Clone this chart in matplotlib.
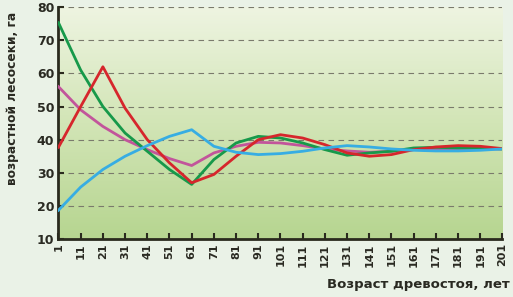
import numpy as np
import matplotlib
matplotlib.use('Agg')
import matplotlib.pyplot as plt
from matplotlib.colors import LinearSegmentedColormap

matplotlib.rcParams['font.family'] = 'DejaVu Sans'

# Data
ages = [1, 11, 21, 31, 41, 51, 61, 71, 81, 91, 101, 111, 121, 131, 141, 151, 161, 171, 181, 191, 201]
green = [75.3, 61.0, 50.0, 42.0, 36.5, 31.0, 26.5, 34.0, 39.0, 41.0, 40.5, 39.0, 37.0, 35.3, 36.0, 36.5, 37.5, 37.7, 37.5, 37.5, 37.2]
red = [37.7, 50.0, 62.0, 49.5, 40.0, 33.0, 27.0, 29.5, 35.0, 40.0, 41.5, 40.5, 38.5, 36.0, 35.0, 35.5, 37.0, 37.8, 38.2, 38.0, 37.3]
magenta = [56.0, 49.0, 44.0, 40.0, 37.0, 34.3, 32.2, 36.0, 38.0, 39.2, 39.0, 38.2, 37.2, 36.6, 36.2, 36.5, 37.0, 37.2, 37.2, 37.2, 37.2]
blue = [18.7, 25.7, 31.0, 35.0, 38.2, 41.0, 43.0, 38.0, 36.2, 35.5, 35.8, 36.5, 37.5, 38.2, 37.8, 37.2, 36.8, 36.6, 36.6, 36.8, 37.2]

y_ticks = [10, 20, 30, 40, 50, 60, 70, 80]

fig = plt.figure(figsize=(5.13, 2.97), dpi=100, facecolor='#eaf2e7')
ax = fig.add_axes([0.114, 0.195, 0.8655, 0.781])

# gradient background of the plot area
cmap = LinearSegmentedColormap.from_list('bg', ['#b6d590', '#d2e5b6', '#eef4e1'])
grad = np.linspace(0, 1, 256).reshape(-1, 1)
ax.imshow(grad, cmap=cmap, origin='lower', extent=[1, 201, 10, 80], aspect='auto', zorder=0)

for y in y_ticks[1:]:
    ax.axhline(y, color='#7a7a6c', linewidth=0.8, linestyle=(0, (5, 4)), zorder=1)

ax.plot(ages, magenta, color='#c2559b', linewidth=2.0, zorder=3)
ax.plot(ages, green, color='#17994a', linewidth=2.0, zorder=4)
ax.plot(ages, red, color='#d6262c', linewidth=2.0, zorder=5)
ax.plot(ages, blue, color='#37ade3', linewidth=2.0, zorder=6)

ax.set_xlim(1, 201)
ax.set_ylim(10, 80)
ax.set_xticks(ages)
ax.set_xticklabels([str(a) for a in ages], rotation=90, fontsize=8, fontweight='bold', color='#2a2a22')
ax.set_yticks(y_ticks)
ax.set_yticklabels([str(y) for y in y_ticks], fontsize=9, fontweight='bold', color='#2a2a22')
ax.tick_params(axis='both', direction='in', length=4, width=1.5, color='#2a2a1e', pad=3)

for side in ['top', 'right']:
    ax.spines[side].set_visible(False)
for side in ['left', 'bottom']:
    ax.spines[side].set_linewidth(2)
    ax.spines[side].set_color('#2a2a1e')

fig.text(0.994, 0.02, 'Возраст древостоя, лет', ha='right', va='bottom',
         fontsize=9.5, fontweight='bold', color='#2a2a22')
fig.text(0.012, 0.377, 'возрастной лесосеки, га', rotation=90, ha='left', va='bottom',
         fontsize=8.8, fontweight='bold', color='#2a2a22')

plt.savefig('out.png', dpi=100, facecolor=fig.get_facecolor())
